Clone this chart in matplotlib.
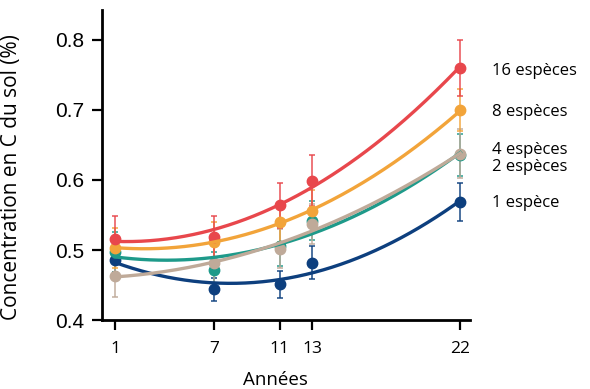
import numpy as np
import matplotlib
matplotlib.use("Agg")
import matplotlib.pyplot as plt

# data
years = [1, 7, 11, 13, 22]
labels = ["16 espèces", "8 espèces", "4 espèces", "2 espèces", "1 espèce"]
colors = ["#E8474C", "#F2A43A", "#BFAA99", "#1E9A8A", "#0D3F7E"]

c16 = [0.516, 0.519, 0.564, 0.599, 0.760]
c8 = [0.503, 0.512, 0.540, 0.555, 0.699]
c4 = [0.463, 0.481, 0.502, 0.537, 0.637]
c2 = [0.497, 0.471, 0.505, 0.542, 0.635]
c1 = [0.486, 0.444, 0.451, 0.482, 0.568]

e16 = [0.032, 0.030, 0.032, 0.036, 0.040]
e8 = [0.028, 0.028, 0.028, 0.030, 0.030]
e4 = [0.030, 0.028, 0.028, 0.028, 0.035]
e2 = [0.028, 0.026, 0.028, 0.028, 0.030]
e1 = [0.018, 0.016, 0.019, 0.023, 0.027]

series = [c16, c8, c4, c2, c1]
errors = [e16, e8, e4, e2, e1]
label_y = [0.755, 0.697, 0.642, 0.618, 0.567]

fig = plt.figure(figsize=(5.9, 3.89), dpi=100)
ax = fig.add_axes([0.173, 0.177, 0.624, 0.797])

xs = np.linspace(1, 22, 200)
# draw back to front so the red curve ends up on top
for vals, errs, col in list(zip(series, errors, colors))[::-1]:
    ax.errorbar(years, vals, yerr=errs, fmt="none", ecolor=col, elinewidth=1.3,
                capsize=2.5, capthick=1.3, alpha=0.8, zorder=2)
    ax.plot(years, vals, "o", color=col, markersize=7.5, zorder=3)
    fit = np.polyfit(years, vals, 2)
    ax.plot(xs, np.polyval(fit, xs), color=col, lw=2.4, zorder=4)

for lab, ly in zip(labels, label_y):
    ax.text(1.06, ly, lab, transform=ax.get_yaxis_transform(), fontsize=12,
            family="Open Sans", va="center", ha="left")

ax.set_xlim(0.2, 22.6)
ax.set_ylim(0.4, 0.842)
ax.set_xticks(years)
ax.set_yticks([0.4, 0.5, 0.6, 0.7, 0.8])
ax.set_yticklabels(["0.4", "0.5", "0.6", "0.7", "0.8"], family="Liberation Sans", fontsize=15)
ax.set_xticklabels([str(y) for y in years], family="Open Sans", fontsize=12.5)

for s in ["top", "right"]:
    ax.spines[s].set_visible(False)
for s in ["left", "bottom"]:
    ax.spines[s].set_linewidth(2)
ax.tick_params(width=1.6, length=7, direction="out")
ax.tick_params(axis="x", pad=8)
ax.tick_params(axis="y", pad=6)

ax.set_ylabel("Concentration en C du sol (%)", family="Open Sans", fontsize=15)
ax.yaxis.set_label_coords(-0.217, 0.461)
ax.set_xlabel("Années", family="Open Sans", fontsize=13.5)
ax.xaxis.set_label_coords(0.47, -0.165)

fig.savefig("out.png", dpi=100)
